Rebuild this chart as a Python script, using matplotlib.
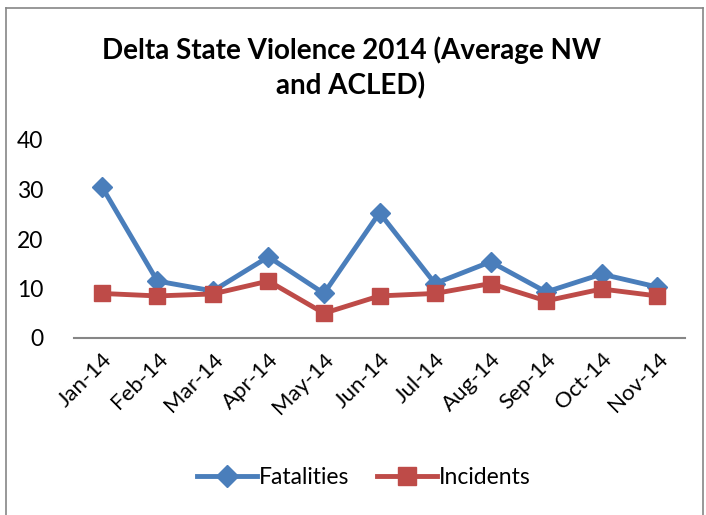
import matplotlib
matplotlib.use("Agg")
import matplotlib.pyplot as plt
from matplotlib.lines import Line2D

months = ["Jan-14", "Feb-14", "Mar-14", "Apr-14", "May-14", "Jun-14",
          "Jul-14", "Aug-14", "Sep-14", "Oct-14", "Nov-14"]
fatalities = [30.6, 11.5, 9.5, 16.4, 9.0, 25.3, 11.0, 15.4, 9.3, 12.9, 10.3]
incidents = [9.0, 8.5, 8.9, 11.5, 5.0, 8.5, 9.0, 11.0, 7.5, 9.9, 8.5]
yticks = [0, 10, 20, 30, 40]
title = "Delta State Violence 2014 (Average NW\nand ACLED)"

plt.rcParams['font.family'] = ['Lato', 'DejaVu Sans']

W, H = 706, 515
fig = plt.figure(figsize=(W / 100, H / 100), dpi=100)
ax = fig.add_axes([74 / W, 1 - 338 / H, (685 - 74) / W, (338 - 140) / H])

blue = "#4A7EBB"
red = "#BE4B48"
x = list(range(len(months)))
ax.plot(x, fatalities, color=blue, lw=3.5, marker="D", ms=10, mec=blue, mfc=blue,
        label="Fatalities", zorder=3)
ax.plot(x, incidents, color=red, lw=3.5, marker="s", ms=12, mec=red, mfc=red,
        label="Incidents", zorder=4)

ax.set_xlim(-0.5, len(months) - 0.5)
ax.set_ylim(0, 40)
ax.set_yticks(yticks)
ax.set_xticks(x)
ax.set_xticklabels(months, rotation=45, ha="right", rotation_mode="anchor", fontsize=16)
ax.tick_params(axis="y", labelsize=16.5, length=0, pad=22)
ax.tick_params(axis="x", length=0, pad=8)
for s in ["top", "right", "left"]:
    ax.spines[s].set_visible(False)
ax.spines["bottom"].set_color("#868686")
ax.spines["bottom"].set_linewidth(1.5)

fig.text(351 / W, 1 - 68 / H, title, ha="center", va="center", fontsize=20,
         fontweight="bold", linespacing=1.4)

handles = [Line2D([0], [0], color=blue, lw=3.5, marker="D", ms=11),
           Line2D([0], [0], color=red, lw=3.5, marker="s", ms=13)]
fig.legend(handles, ["Fatalities", "Incidents"], loc="center",
           bbox_to_anchor=(364 / W, 1 - 478 / H), ncol=2, frameon=False,
           fontsize=16.5, handlelength=2.6, columnspacing=1.2, handletextpad=0.1)

# chart border
fig.add_artist(Line2D([6 / W, 6 / W], [0, 1 - 8 / H], color="#868686", lw=1.2,
                      transform=fig.transFigure))
fig.add_artist(Line2D([6 / W, 703 / W], [1 - 8 / H, 1 - 8 / H], color="#868686",
                      lw=1.2, transform=fig.transFigure))
fig.add_artist(Line2D([703 / W, 703 / W], [0, 1 - 8 / H], color="#868686", lw=1.2,
                      transform=fig.transFigure))

fig.savefig("out.png", dpi=100)
